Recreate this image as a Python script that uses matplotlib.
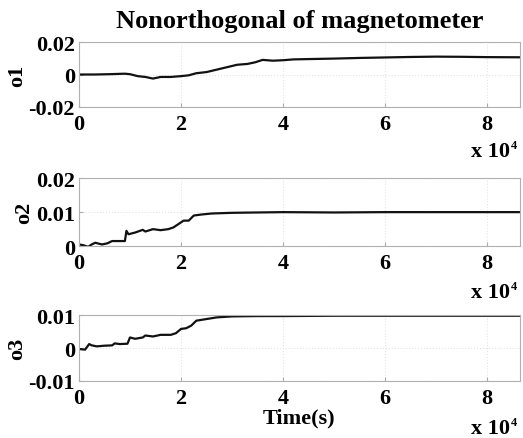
import matplotlib
matplotlib.use('Agg')
import matplotlib.pyplot as plt

# --- data (time in s, value) ---
t1 = [0, 3000, 6000, 9000, 10000, 11500, 13000, 14500, 16000, 18000, 20000, 21500,
      23000, 25000, 27000, 29000, 31000, 33000, 34500, 36000, 38000, 40000, 42000,
      45000, 50000, 55000, 60000, 65000, 70000, 75000, 80000, 86400]
o1 = [0.0, 0.0, 0.0002, 0.0005, 0.0002, -0.001, -0.0015, -0.0025, -0.0015, -0.0015, -0.001, -0.0005,
      0.0008, 0.0015, 0.003, 0.0045, 0.006, 0.0065, 0.0075, 0.009, 0.0085, 0.0088, 0.0093,
      0.0095, 0.0098, 0.0102, 0.0105, 0.0108, 0.011, 0.0109, 0.0107, 0.0106]

t2 = [0, 800, 1800, 2500, 3200, 4500, 5500, 6500, 7500, 9000, 9300, 9700, 11000, 12500,
      13000, 14500, 16000, 17500, 18500, 19500, 20500, 21500, 22500, 24000, 26000, 30000,
      35000, 40000, 50000, 60000, 70000, 80000, 86400]
o2 = [0.0005, 0.0003, -0.0002, 0.0005, 0.001, 0.0005, 0.0008, 0.0015, 0.0015, 0.0015, 0.0045, 0.0035, 0.004, 0.0048,
      0.0043, 0.005, 0.0047, 0.005, 0.0055, 0.0065, 0.0075, 0.0075, 0.009, 0.0093, 0.0096, 0.0098,
      0.0099, 0.0100, 0.0099, 0.0100, 0.0100, 0.0100, 0.0100]

t3 = [0, 1200, 2000, 2500, 3500, 5000, 6500, 7000, 8000, 9500, 10000, 11000, 12500,
      13000, 14500, 16000, 18000, 19000, 20000, 21000, 22000, 23000, 25000, 27000, 30000,
      35000, 40000, 50000, 60000, 70000, 80000, 86400]
o3 = [-0.0003, -0.0005, 0.0012, 0.0008, 0.0005, 0.0007, 0.0008, 0.0014, 0.0012, 0.0013, 0.0032, 0.0028, 0.0032,
      0.0038, 0.0035, 0.004, 0.004, 0.0045, 0.0058, 0.006, 0.0068, 0.0083, 0.0088, 0.0093, 0.0096,
      0.0097, 0.0097, 0.0098, 0.0098, 0.0098, 0.0098, 0.0098]

ylims = [(-0.02, 0.02), (0, 0.02), (-0.01, 0.01)]
yticks = [[-0.02, 0, 0.02], [0, 0.01, 0.02], [-0.01, 0, 0.01]]
ylabels = ['o1', 'o2', 'o3']
xticks = [0, 20000, 40000, 60000, 80000]
xticklabels = ['0', '2', '4', '6', '8']

plt.rcParams['font.family'] = ['Liberation Serif', 'DejaVu Serif']
plt.rcParams['font.weight'] = 'bold'

fig = plt.figure(figsize=(5.23, 4.39), dpi=100)

# axes boxes [left, bottom, width, height] in figure fraction
boxes = [[0.151, 0.754, 0.843, 0.148],
         [0.151, 0.437, 0.843, 0.155],
         [0.151, 0.130, 0.843, 0.150]]

series = [(t1, o1), (t2, o2), (t3, o3)]
fs = 16

for n, (t, y) in enumerate(series):
    ax = fig.add_axes(boxes[n])
    ax.plot(t, y, color='#111111', linewidth=1.6)
    ax.set_xlim(0, 86400)
    ax.set_ylim(*ylims[n])
    ax.set_xticks(xticks)
    ax.set_xticklabels(xticklabels, fontsize=fs, fontweight='bold')
    ax.set_yticks(yticks[n])
    ax.set_yticklabels(['%g' % v for v in yticks[n]], fontsize=fs, fontweight='bold')
    ax.set_ylabel(ylabels[n], fontsize=fs, fontweight='bold', labelpad=1)
    ax.grid(True, color='#e4e4e4', linestyle=':', linewidth=0.8)
    ax.tick_params(axis='both', direction='in', length=3, color='#aaaaaa')
    ax.tick_params(axis='x', pad=5)
    ax.tick_params(axis='y', pad=3)
    for s in ax.spines.values():
        s.set_color('#b0b0b0')
        s.set_linewidth(0.8)
    # MATLAB style exponent note under the right end
    yy = -0.68 if n < 2 else -0.72
    ax.text(0.977, yy, 'x 10', transform=ax.transAxes,
            fontsize=fs, fontweight='bold', ha='right', va='center')
    ax.text(0.980, yy + 0.09, '4', transform=ax.transAxes,
            fontsize=9, fontweight='bold', ha='left', va='center')
    if n == 0:
        ax.set_title('Nonorthogonal of magnetometer', fontsize=19, fontweight='bold', pad=11)
    if n == 2:
        ax.set_xlabel('Time(s)', fontsize=16, fontweight='bold', labelpad=0)

fig.savefig('out.png', dpi=100)
